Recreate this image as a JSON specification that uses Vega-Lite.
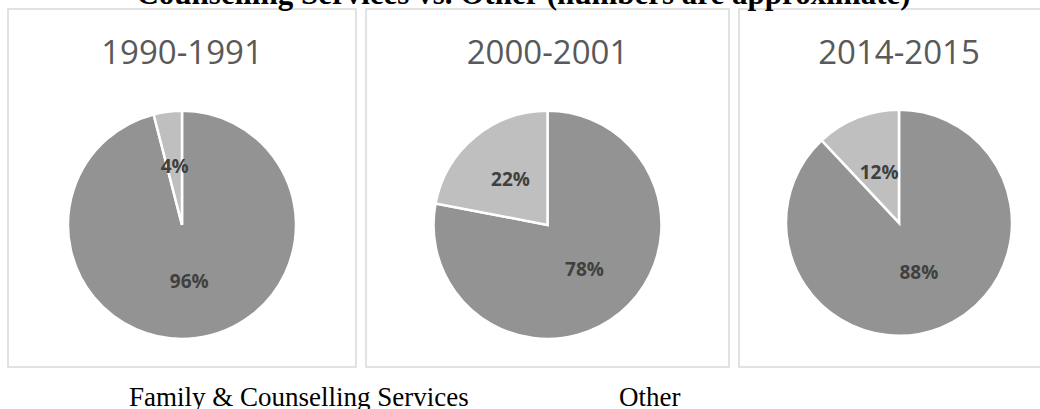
{
  "$schema": "https://vega.github.io/schema/vega-lite/v6.json",
  "padding": {"left": 7, "top": -21, "right": 0, "bottom": 0},
  "background": "white",
  "title": {
    "text": "Counselling Services vs. Other (numbers are approximate)",
    "font": "Liberation Serif",
    "fontSize": 31,
    "fontWeight": "bold",
    "color": "black",
    "anchor": "middle",
    "baseline": "alphabetic",
    "offset": -27,
    "dx": -10
  },
  "data": {
    "values": [
      {"period": "1990-1991", "category": "Family & Counselling Services", "value": 96, "label": "96%"},
      {"period": "1990-1991", "category": "Other", "value": 4, "label": "4%"},
      {"period": "2000-2001", "category": "Family & Counselling Services", "value": 78, "label": "78%"},
      {"period": "2000-2001", "category": "Other", "value": 22, "label": "22%"},
      {"period": "2014-2015", "category": "Family & Counselling Services", "value": 88, "label": "88%"},
      {"period": "2014-2015", "category": "Other", "value": 12, "label": "12%"}
    ]
  },
  "spacing": 8,
  "hconcat": [
    {
      "width": 348,
      "height": 358,
      "view": {"stroke": "#d9d9d9", "strokeWidth": 1.5, "fill": "white"},
      "title": {"text": "1990-1991", "font": "Open Sans", "fontSize": 33, "fontWeight": "normal", "color": "#595959", "offset": -88, "baseline": "alphabetic", "anchor": "middle"},
      "transform": [{"filter": "datum.period === '1990-1991'"}],
      "encoding": {
        "theta": {"field": "value", "type": "quantitative", "stack": true},
        "order": {"field": "category", "sort": "ascending"}
      },
      "layer": [
        {
          "mark": {"type": "arc", "outerRadius": 114, "stroke": "white", "strokeWidth": 2.5, "y": {"expr": "height*0.603"}},
          "encoding": {
            "color": {"field": "category", "type": "nominal", "scale": {"domain": ["Family & Counselling Services", "Other"], "range": ["#939393", "#bfbfbf"]}}
          }
        },
        {
          "mark": {"type": "text", "radius": 58, "font": "Open Sans", "fontSize": 19, "fontWeight": "bold", "color": "#404040", "y": {"expr": "height*0.603"}},
          "encoding": {"text": {"field": "label"}, "detail": {"field": "category"}}
        }
      ]
    },
    {
      "width": 363,
      "height": 358,
      "view": {"stroke": "#d9d9d9", "strokeWidth": 1.5, "fill": "white"},
      "title": {"text": "2000-2001", "font": "Open Sans", "fontSize": 33, "fontWeight": "normal", "color": "#595959", "offset": -88, "baseline": "alphabetic", "anchor": "middle"},
      "transform": [{"filter": "datum.period === '2000-2001'"}],
      "encoding": {
        "theta": {"field": "value", "type": "quantitative", "stack": true},
        "order": {"field": "category", "sort": "ascending"}
      },
      "layer": [
        {
          "mark": {"type": "arc", "outerRadius": 114, "stroke": "white", "strokeWidth": 2.5, "y": {"expr": "height*0.603"}},
          "encoding": {
            "color": {"field": "category", "type": "nominal", "scale": {"domain": ["Family & Counselling Services", "Other"], "range": ["#939393", "#bfbfbf"]}}
          }
        },
        {
          "mark": {"type": "text", "radius": 58, "font": "Open Sans", "fontSize": 19, "fontWeight": "bold", "color": "#404040", "y": {"expr": "height*0.603"}},
          "encoding": {"text": {"field": "label"}, "detail": {"field": "category"}}
        }
      ]
    },
    {
      "width": 320,
      "height": 358,
      "view": {"stroke": "#d9d9d9", "strokeWidth": 1.5, "fill": "white"},
      "title": {"text": "2014-2015", "font": "Open Sans", "fontSize": 33, "fontWeight": "normal", "color": "#595959", "offset": -88, "baseline": "alphabetic", "anchor": "middle"},
      "transform": [{"filter": "datum.period === '2014-2015'"}],
      "encoding": {
        "theta": {"field": "value", "type": "quantitative", "stack": true},
        "order": {"field": "category", "sort": "ascending"}
      },
      "layer": [
        {
          "mark": {"type": "arc", "outerRadius": 113, "stroke": "white", "strokeWidth": 2.5, "y": {"expr": "height*0.597"}},
          "encoding": {
            "color": {"field": "category", "type": "nominal", "scale": {"domain": ["Family & Counselling Services", "Other"], "range": ["#939393", "#bfbfbf"]}}
          }
        },
        {
          "mark": {"type": "text", "radius": 54, "font": "Open Sans", "fontSize": 19, "fontWeight": "bold", "color": "#404040", "y": {"expr": "height*0.597"}},
          "encoding": {"text": {"field": "label"}, "detail": {"field": "category"}}
        }
      ]
    }
  ],
  "resolve": {"scale": {"theta": "independent", "color": "shared"}, "legend": {"color": "shared"}},
  "config": {
    "view": {"stroke": "#d9d9d9", "strokeWidth": 1.5},
    "legend": {
      "orient": "none",
      "legendX": 94,
      "legendY": 375,
      "direction": "horizontal",
      "title": null,
      "labelFont": "Liberation Serif",
      "labelFontSize": 27,
      "labelColor": "black",
      "labelLimit": 0,
      "labelOffset": 0,
      "symbolSize": 1,
      "symbolOpacity": 0,
      "symbolStrokeWidth": 0,
      "columnPadding": 123
    }
  }
}
